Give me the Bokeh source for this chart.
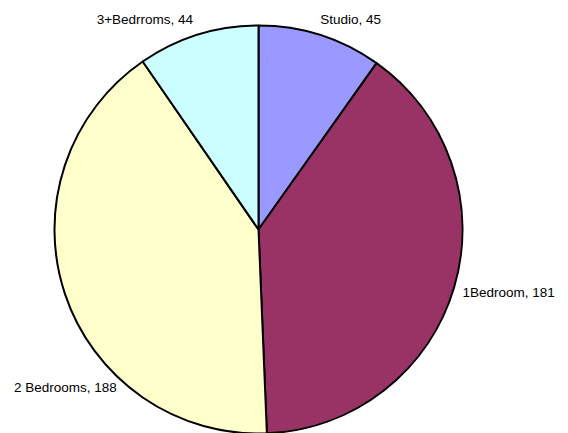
import math
from bokeh.plotting import figure
from bokeh.models import Range1d, ColumnDataSource
from bokeh.core.properties import value
from bokeh.embed import file_html
from bokeh.resources import INLINE

# Data
categories = ["Studio", "1Bedroom", "2 Bedrooms", "3+Bedrroms"]
counts = [45, 181, 188, 44]
colors = ["#9999FF", "#993366", "#FFFFCC", "#CCFFFF"]

# Layout / style (not data)
W, H = 568, 433
cx, cy, R = 258, H - 229, 204
label_r = [219, 213.5, 212, 220]
label_shift_deg = [-1.3, 0.7, -29.6, 0]
label_align = ["left", "left", "right", "right"]
label_base = ["alphabetic", "middle", "middle", "alphabetic"]

total = sum(counts)
starts, ends, lx, ly, texts = [], [], [], [], []
cum = 0
for i, c in enumerate(counts):
    a0 = math.pi / 2 - 2 * math.pi * cum / total
    cum += c
    a1 = math.pi / 2 - 2 * math.pi * cum / total
    starts.append(a0)
    ends.append(a1)
    mid = (a0 + a1) / 2 - math.radians(label_shift_deg[i])
    lx.append(cx + label_r[i] * math.cos(mid))
    ly.append(cy + label_r[i] * math.sin(mid))
    texts.append(f"{categories[i]}, {c}")

src = ColumnDataSource(dict(start=starts, end=ends, color=colors))
lsrc = ColumnDataSource(dict(x=lx, y=ly, text=texts, align=label_align, base=label_base))

p = figure(width=W, height=H, output_backend="svg", toolbar_location=None,
           x_range=Range1d(0, W), y_range=Range1d(0, H), min_border=0)
p.axis.visible = False
p.grid.visible = False
p.outline_line_color = None
p.background_fill_color = "white"
p.border_fill_color = "white"

p.wedge(x=cx, y=cy, radius=R, start_angle="start", end_angle="end", direction="clock",
        fill_color="color", line_color="black", line_width=2, source=src)

p.text(x="x", y="y", text="text", text_align="align", text_baseline="base",
       text_font=value("Liberation Sans"), text_font_size="13.5px", text_color="black",
       source=lsrc)

open("out.html", "w").write(file_html(p, INLINE))
